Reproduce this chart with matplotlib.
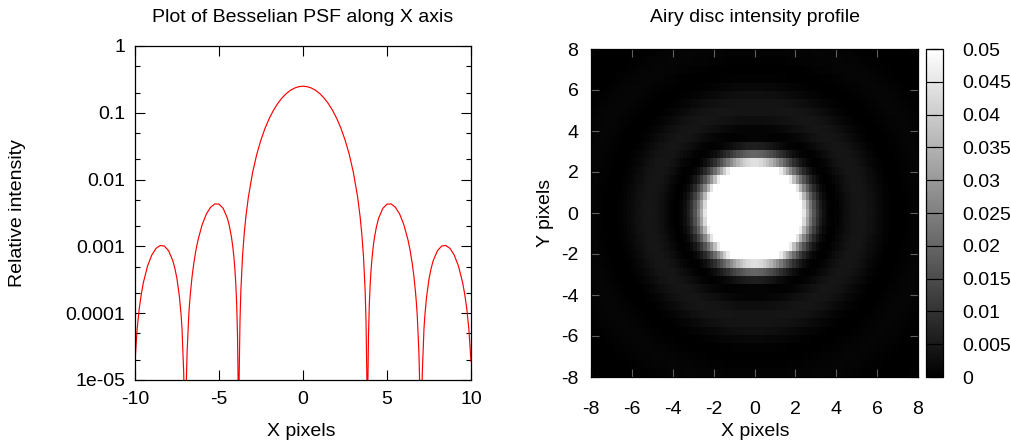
import numpy as np
import matplotlib.pyplot as plt
from matplotlib.ticker import FixedLocator, FixedFormatter

plt.rcParams['font.family'] = ['Liberation Sans', 'DejaVu Sans']
plt.rcParams['font.size'] = 14

# Radial profile of the PSF (pixels from centre, x >= 0).
# The pattern is symmetric, so the left curve mirrors it and the image uses it by radius.
R_PIX = [0.00, 0.25, 0.50, 0.75, 1.00, 1.25, 1.50, 1.75, 2.00, 2.25,
         2.50, 2.75, 3.00, 3.25, 3.40, 3.50, 3.60, 3.70, 3.75, 3.80,
         3.82, 3.83, 3.84, 3.86, 3.90, 3.95, 4.00, 4.05, 4.10, 4.175,
         4.25, 4.375, 4.50, 4.75, 5.00, 5.25, 5.50, 5.75, 6.00, 6.25,
         6.375, 6.50, 6.60, 6.70, 6.75, 6.80, 6.90, 6.95, 6.98, 7.00,
         7.02, 7.05, 7.10, 7.20, 7.25, 7.35, 7.50, 7.625, 7.75, 8.00,
         8.25, 8.50, 8.75, 9.00, 9.25, 9.50, 9.625, 9.75, 9.875, 10.00,
         10.17, 10.50, 11.00, 11.50]
INTENSITY = [0.25, 0.24612, 0.23478, 0.21684, 0.19364, 0.16687, 0.13835, 0.10990, 0.083153, 0.059401,
             0.039537, 0.023994, 0.012773, 0.005505, 0.00278, 0.0015407, 7.08e-4, 2.126e-4, 7.83e-5, 1.138e-5,
             1.52e-6, 2e-8, 7.57e-7, 8.66e-6, 4.887e-5, 1.4106e-4, 2.7261e-4, 4.392e-4, 6.345e-4, 9.693e-4,
             0.0013390, 0.0019894, 0.0026365, 0.0037102, 0.0042923, 0.0043223, 0.0038539, 0.0030597, 0.0021265, 0.0012479,
             8.733e-4, 5.6017e-4, 3.586e-4, 2.025e-4, 1.4159e-4, 9.307e-5, 2.566e-5, 8.09e-6, 2.35e-6, 4.48e-7,
             3.6e-8, 2.137e-6, 1.26e-5, 5.772e-5, 8.965e-5, 1.715e-4, 3.2519e-4, 4.678e-4, 6.119e-4, 8.6025e-4,
             1.0111e-3, 1.0325e-3, 9.3344e-4, 7.4294e-4, 5.1163e-4, 2.8815e-4, 1.935e-4, 1.1568e-4, 5.697e-5, 1.8899e-5,
             1e-9, 5.6e-5, 2.583e-4, 3.9e-4]

LOG_TICKS = [1, 0.1, 0.01, 0.001, 0.0001, 1e-5]
LOG_TICK_LABELS = ['1', '0.1', '0.01', '0.001', '0.0001', '1e-05']
LOG_MINOR = [0.5, 0.2, 0.05, 0.02, 0.005, 0.002, 5e-4, 2e-4, 5e-5, 2e-5]
X_TICKS = [-10, -5, 0, 5, 10]
X_TICK_LABELS = ['-10', '-5', '0', '5', '10']
IMG_TICKS = [-8, -6, -4, -2, 0, 2, 4, 6, 8]
IMG_TICK_LABELS = ['-8', '-6', '-4', '-2', '0', '2', '4', '6', '8']
CB_TICKS = [0, 0.005, 0.01, 0.015, 0.02, 0.025, 0.03, 0.035, 0.04, 0.045, 0.05]
CB_TICK_LABELS = ['0', '0.005', '0.01', '0.015', '0.02', '0.025', '0.03',
                  '0.035', '0.04', '0.045', '0.05']

# sampling of the 2D map (samples along x, isosamples along y)
N_SAMPLES = 100
N_ISO = 40

W, H = 1011, 443


def px_axes(x0, y0, x1, y1):
    return [x0 / W, 1 - y1 / H, (x1 - x0) / W, (y1 - y0) / H]


fig = plt.figure(figsize=(W / 100, H / 100), dpi=100)

# ---- left: profile along X on log scale
ax1 = fig.add_axes(px_axes(135, 46, 471, 380))
r = np.array(R_PIX)
val = np.array(INTENSITY)
keep = r <= 10.0
xs_line = np.concatenate([-r[keep][::-1], r[keep][1:]])
ys_line = np.concatenate([val[keep][::-1], val[keep][1:]])
ax1.plot(xs_line, ys_line, color='#ff0000', lw=0.85)
ax1.set_yscale('log')
ax1.set_xlim(-10, 10)
ax1.set_ylim(1e-5, 1)
ax1.yaxis.set_major_locator(FixedLocator(LOG_TICKS))
ax1.yaxis.set_major_formatter(FixedFormatter(LOG_TICK_LABELS))
ax1.yaxis.set_minor_locator(FixedLocator(LOG_MINOR))
ax1.yaxis.set_minor_formatter(FixedFormatter([''] * len(LOG_MINOR)))
ax1.set_xticks(X_TICKS)
ax1.set_xticklabels(X_TICK_LABELS)
ax1.tick_params(which='both', direction='in', top=True, right=True, width=0.8)
ax1.tick_params(which='major', length=7)
ax1.tick_params(which='minor', length=3.5)
ax1.tick_params(axis='y', pad=7)
ax1.tick_params(axis='x', pad=8)
for s in ax1.spines.values():
    s.set_linewidth(0.9)

fig.text(303 / W, 1 - 17 / H, 'Plot of Besselian PSF along X axis', ha='center', va='center')
fig.text(301 / W, 1 - 432 / H, 'X pixels', ha='center', va='center')
fig.text(18 / W, 1 - 213 / H, 'Relative intensity', ha='center', va='center', rotation=90)

# ---- right: 2D Airy disc map
ax2 = fig.add_axes(px_axes(591, 49, 918, 377))
gx = np.linspace(-8, 8, N_SAMPLES)
gy = np.linspace(-8, 8, N_ISO)
GX, GY = np.meshgrid(gx, gy)
Z = np.interp(np.hypot(GX, GY), r, val)
C = 0.25 * (Z[:-1, :-1] + Z[1:, :-1] + Z[:-1, 1:] + Z[1:, 1:])
mesh = ax2.pcolormesh(gx, gy, C, cmap='gray', vmin=0, vmax=0.05, shading='flat')
ax2.set_xlim(-8, 8)
ax2.set_ylim(-8, 8)
ax2.set_xticks(IMG_TICKS)
ax2.set_xticklabels(IMG_TICK_LABELS)
ax2.set_yticks(IMG_TICKS)
ax2.set_yticklabels(IMG_TICK_LABELS)
ax2.tick_params(direction='in', top=True, right=True, length=6, width=0.8, color='#606060')
ax2.tick_params(axis='x', pad=17)
ax2.tick_params(axis='y', pad=9)
for s in ax2.spines.values():
    s.set_linewidth(0.9)

fig.text(755 / W, 1 - 17 / H, 'Airy disc intensity profile', ha='center', va='center')
fig.text(755 / W, 1 - 432 / H, 'X pixels', ha='center', va='center')
fig.text(545 / W, 1 - 213 / H, 'Y pixels', ha='center', va='center', rotation=90)

cax = fig.add_axes(px_axes(926, 49, 943, 377))
cb = fig.colorbar(mesh, cax=cax, ticks=CB_TICKS)
cb.ax.set_yticklabels(CB_TICK_LABELS)
cb.outline.set_linewidth(0.9)
cax.tick_params(direction='in', left=True, right=True, length=8.5, width=0.8, pad=14)

fig.savefig('out.png', dpi=100)
